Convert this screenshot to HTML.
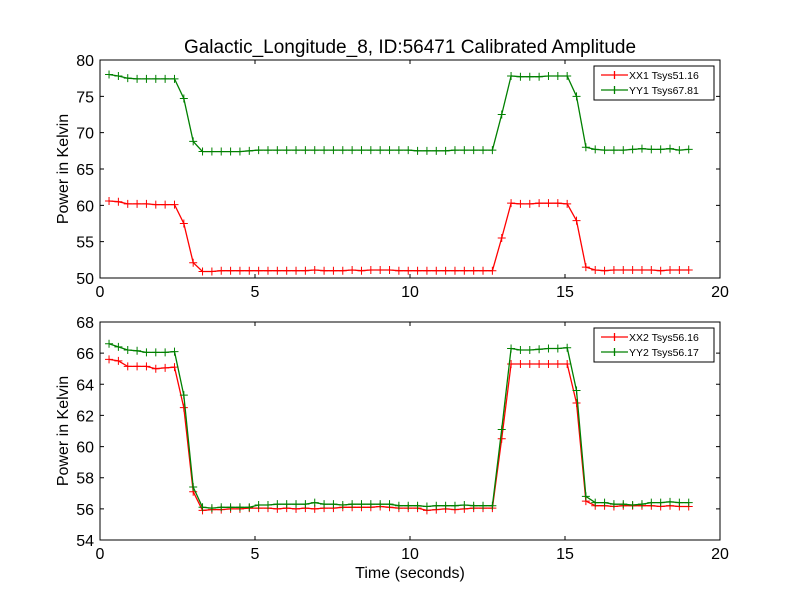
<!DOCTYPE html>
<html><head><meta charset="utf-8"><style>
body{margin:0;background:#fff;}
svg text{font-family:"Liberation Sans","DejaVu Sans",sans-serif;}
</style></head><body>
<svg id="chart" width="800" height="600" xmlns="http://www.w3.org/2000/svg">
<rect width="800" height="600" fill="#fff"/>
<text x="410" y="53" font-size="19" text-anchor="middle">Galactic_Longitude_8, ID:56471 Calibrated Amplitude</text>
<text x="572" y="578" font-size="16" text-anchor="middle" transform="translate(-162,0)">Time (seconds)</text>
</svg>
<script>
const xx1 = [60.6,60.5,60.2,60.2,60.2,60.1,60.1,60.1,57.5,52.1,50.9,50.9,51.0,51.0,51.0,51.0,51.0,51.0,51.0,51.0,51.0,51.0,51.1,51.0,51.0,51.0,51.1,51.0,51.1,51.1,51.1,51.0,51.0,51.0,51.0,51.0,51.0,51.0,51.0,51.0,51.0,51.0,55.5,60.3,60.2,60.2,60.3,60.3,60.3,60.2,57.9,51.5,51.1,51.0,51.1,51.1,51.1,51.1,51.1,51.0,51.1,51.1,51.1];
const yy1 = [78.0,77.8,77.5,77.4,77.4,77.4,77.4,77.4,74.7,68.8,67.4,67.4,67.4,67.4,67.4,67.5,67.6,67.6,67.6,67.6,67.6,67.6,67.6,67.6,67.6,67.6,67.6,67.6,67.6,67.6,67.6,67.6,67.6,67.5,67.5,67.5,67.5,67.6,67.6,67.6,67.6,67.6,72.5,77.8,77.7,77.7,77.7,77.8,77.8,77.8,75.0,68.0,67.7,67.6,67.6,67.6,67.7,67.8,67.7,67.7,67.8,67.6,67.7];
const xx2 = [65.6,65.5,65.15,65.15,65.15,65.0,65.05,65.1,62.5,57.1,55.9,55.95,55.95,56.0,56.0,56.05,56.05,56.05,56.0,56.05,56.0,56.05,56.0,56.05,56.05,56.1,56.1,56.1,56.1,56.15,56.1,56.05,56.05,56.05,55.9,55.95,56.0,55.95,56.0,56.05,56.05,56.05,60.5,65.3,65.3,65.3,65.3,65.3,65.3,65.3,62.8,56.5,56.2,56.2,56.15,56.2,56.2,56.2,56.2,56.15,56.2,56.15,56.15];
const yy2 = [66.6,66.4,66.2,66.15,66.05,66.05,66.05,66.1,63.3,57.4,56.1,56.05,56.1,56.1,56.1,56.1,56.25,56.25,56.3,56.3,56.3,56.3,56.4,56.3,56.3,56.25,56.3,56.3,56.3,56.3,56.3,56.2,56.2,56.2,56.15,56.2,56.2,56.2,56.25,56.2,56.2,56.2,61.1,66.3,66.2,66.2,66.25,66.3,66.3,66.35,63.6,56.8,56.4,56.4,56.3,56.3,56.25,56.3,56.4,56.4,56.45,56.4,56.4];
const times = xx1.map((_, i) => (i + 1) * 0.3016 - 0.01);
const xTicks = [0,5,10,15,20];
const yTicksTop = [50,55,60,65,70,75,80];
const yTicksBot = [54,56,58,60,62,64,66,68];
const labelsTop = ['XX1 Tsys51.16','YY1 Tsys67.81'];
const labelsBot = ['XX2 Tsys56.16','YY2 Tsys56.17'];

const svg = document.getElementById('chart');
const NS = 'http://www.w3.org/2000/svg';
function mk(tag, attrs, parent) {
  const e = document.createElementNS(NS, tag);
  for (const k in attrs) e.setAttribute(k, attrs[k]);
  (parent || svg).appendChild(e);
  return e;
}
function panel(top, bottom, yMin, yMax, yTicks, series, labels, name) {
  const L = 100, R = 720;
  const g = mk('g', {});
  
  
  const xs = t => L + (t - 0) / 20 * (R - L);
  const ys = v => bottom - (v - yMin) / (yMax - yMin) * (bottom - top);
  series.forEach((s, si) => {
    const pts = s.data.map((v, i) => xs(times[i]).toFixed(1) + ',' + ys(v).toFixed(1)).join(' ');
    const pl = mk('polyline', {points: pts, fill: 'none', stroke: s.color, 'stroke-width': 1.3}, g);
    
    
    s.data.forEach((v, i) => {
      const x = xs(times[i]), y = ys(v);
      const m = mk('path', {d: `M${x-4},${y}h8M${x},${y-4}v8`, stroke: s.color, 'stroke-width': 1}, g);
      
      
    });
  });
  const frame = mk('rect', {x: L, y: top, width: R - L, height: bottom - top, fill: 'none', stroke: '#000', 'stroke-width': 1}, g);
  
  
  xTicks.forEach(t => {
    const x = xs(t);
    mk('path', {d: `M${x},${bottom}v-4M${x},${top}v4`, stroke: '#000'}, g);
    const tx = mk('text', {x: x, y: bottom + 19, 'font-size': 16, 'text-anchor': 'middle'}, g);
    tx.textContent = t;
    
    
  });
  yTicks.forEach(t => {
    const y = ys(t);
    mk('path', {d: `M${L},${y}h4M${R},${y}h-4`, stroke: '#000'}, g);
    const tx = mk('text', {x: L - 6, y: y + 6, 'font-size': 16, 'text-anchor': 'end'}, g);
    tx.textContent = t;
    
    
  });
  const yt = mk('text', {x: 0, y: 0, 'font-size': 16, 'text-anchor': 'middle', transform: `translate(68,${(top+bottom)/2}) rotate(-90)`}, g);
  yt.textContent = 'Power in Kelvin';
  
  
  const lg = mk('g', {}, g);
  
  
  mk('rect', {x: 594, y: top + 6, width: 120, height: 34, fill: '#fff', stroke: '#000', 'stroke-width': 1}, lg);
  labels.forEach((lab, i) => {
    const y = top + 15 + i * 15;
    const c = series[i].color;
    mk('path', {d: `M601,${y}h27M614.5,${y-4}v8`, stroke: c, 'stroke-width': 1.3}, lg);
    const tx = mk('text', {x: 629, y: y + 4, 'font-size': 10.5}, lg);
    tx.textContent = lab;
    
    
  });
}
panel(60, 278, 50, 80, yTicksTop, [{data: xx1, color: '#ff0000', name: 'xx1'}, {data: yy1, color: '#008000', name: 'yy1'}], labelsTop, 'top-panel');
panel(322, 540, 54, 68, yTicksBot, [{data: xx2, color: '#ff0000', name: 'xx2'}, {data: yy2, color: '#008000', name: 'yy2'}], labelsBot, 'bottom-panel');
</script>
</body></html>
